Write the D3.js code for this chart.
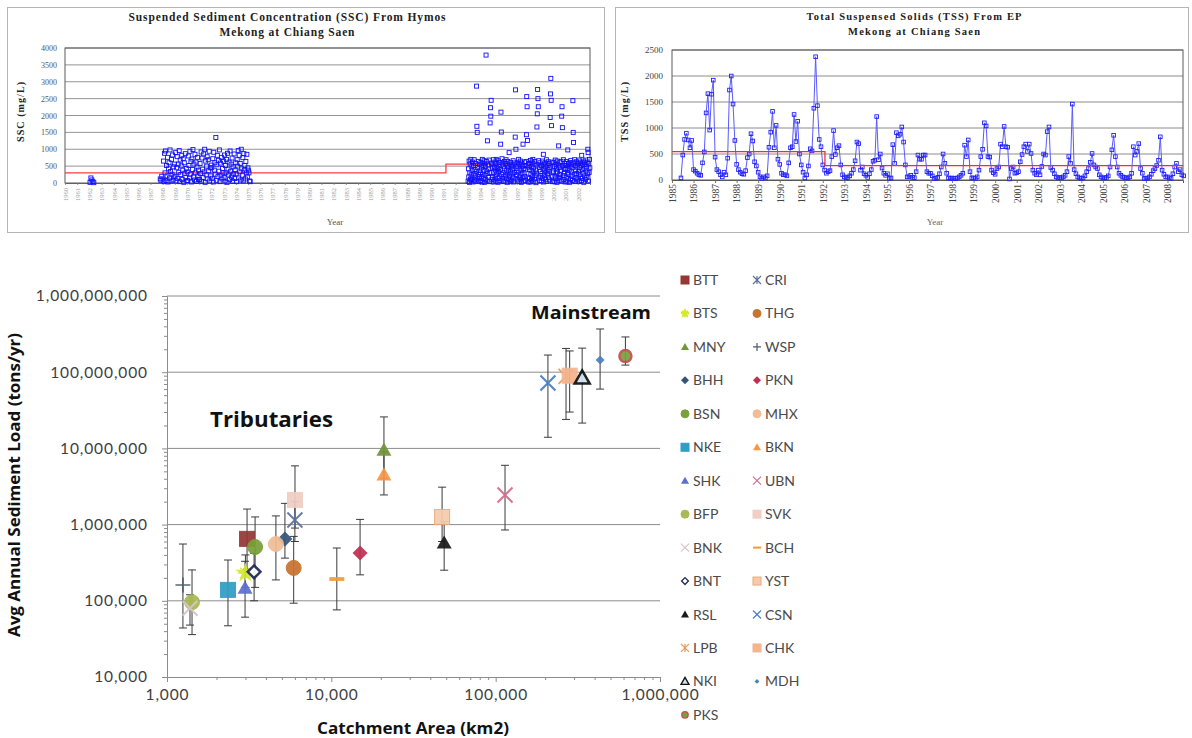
<!DOCTYPE html>
<html>
<head>
<meta charset="utf-8">
<script src="https://cdn.jsdelivr.net/npm/d3@7"></script>
<style>
body { margin: 0; background: #fff; }
svg { display: block; }
</style>
</head>
<body>
<svg id="chart" width="1192" height="738"></svg>
<script>
'use strict'

// ---------- data: SSC from Hymos (top left) ----------
const sscTickYears = [1960, 1961, 1962, 1963, 1964, 1965, 1966, 1967, 1968, 1969, 1970, 1971, 1972, 1973, 1974,
  1975, 1976, 1977, 1978, 1979, 1980, 1981, 1982, 1983, 1984, 1985, 1986, 1987, 1988, 1989, 1990, 1991,
  1992, 1993, 1994, 1995, 1996, 1997, 1998, 1999, 2000, 2001, 2002]
const sscTicks = [0, 500, 1000, 1500, 2000, 2500, 3000, 3500, 4000]
// samples spread through each listed year
const sscSampleYears = [1968, 1969, 1970, 1971, 1972, 1973, 1974, 1993, 1994, 1995, 1996, 1997, 1998, 1999, 2000, 2001, 2002]
const sscYearValues = [
  [120, 650, 40, 880, 300, 950, 75, 520, 210, 760, 30, 420, 600, 150, 980, 340, 60, 700, 260, 830, 90, 480, 180, 560],
  [200, 900, 60, 450, 780, 130, 560, 320, 960, 40, 680, 250, 510, 820, 100, 380, 720, 20, 600, 290, 870, 160, 430, 70],
  [330, 70, 800, 520, 150, 940, 260, 640, 30, 710, 400, 990, 180, 560, 90, 850, 300, 620, 45, 470, 760, 210, 380, 110],
  [90, 580, 280, 920, 50, 740, 410, 160, 860, 330, 1000, 20, 650, 240, 500, 780, 120, 690, 360, 940, 60, 450, 210, 530],
  [450, 140, 720, 30, 910, 380, 600, 260, 1350, 80, 540, 820, 190, 670, 350, 980, 40, 590, 230, 760, 120, 430, 300, 650],
  [160, 830, 60, 520, 300, 700, 20, 880, 410, 240, 620, 100, 950, 350, 560, 180, 740, 50, 480, 270, 860, 130, 390, 600],
  [270, 40, 690, 500, 960, 150, 820, 330, 580, 90, 1000, 420, 230, 750, 60, 870, 380, 520, 120, 640, 300, 850, 180, 450],
  [50, 420, 180, 650, 20, 300, 560, 110, 700, 240, 80, 480, 360, 620, 150, 30, 520, 270, 690, 90, 400, 210, 580, 60, 330, 2870, 1680, 1500, 460, 120, 640, 250, 40, 550, 190, 380],
  [300, 80, 610, 190, 450, 30, 700, 260, 520, 140, 380, 660, 20, 570, 230, 490, 100, 3790, 640, 350, 60, 1250, 280, 530, 170, 420, 680, 40, 310, 1780, 2230, 1980, 2450, 590, 110, 470],
  [160, 540, 30, 690, 310, 90, 460, 620, 210, 380, 50, 700, 270, 580, 130, 430, 20, 660, 340, 500, 180, 610, 70, 400, 1150, 2100, 1510, 250, 720, 120, 560, 300, 40, 480, 200, 640],
  [420, 60, 580, 230, 690, 140, 370, 510, 20, 640, 290, 450, 100, 900, 200, 560, 330, 40, 610, 260, 480, 80, 530, 390, 170, 660, 30, 440, 310, 590, 120, 1360, 2760, 1000, 250, 500],
  [230, 600, 90, 480, 320, 700, 40, 550, 180, 410, 650, 110, 360, 20, 590, 270, 500, 150, 1150, 60, 430, 300, 620, 200, 520, 80, 390, 640, 1430, 2560, 2260, 1260, 170, 470, 30, 560],
  [580, 130, 400, 30, 670, 260, 490, 90, 620, 350, 180, 700, 50, 450, 300, 560, 120, 640, 220, 380, 10, 530, 290, 1660, 2050, 2770, 2500, 2260, 660, 150, 470, 70, 600, 340, 210, 510],
  [70, 510, 280, 650, 140, 420, 850, 30, 560, 230, 380, 600, 110, 470, 320, 690, 50, 540, 260, 400, 630, 160, 350, 580, 90, 450, 1940, 2640, 3100, 2450, 1700, 200, 620, 40, 500, 300],
  [350, 610, 40, 490, 200, 680, 120, 560, 290, 420, 20, 650, 330, 150, 530, 1100, 80, 460, 250, 600, 170, 380, 640, 60, 1980, 2260, 1640, 510, 220, 690, 100, 440, 300, 580, 30, 400],
  [520, 170, 640, 60, 430, 300, 980, 140, 580, 250, 390, 20, 610, 480, 110, 670, 330, 540, 200, 450, 80, 2440, 1500, 1200, 600, 260, 690, 40, 520, 360, 150, 630, 280, 470, 90, 560],
  [120, 590, 330, 680, 40, 460, 250, 620, 180, 510, 70, 820, 390, 140, 560, 290, 650, 20, 430, 600, 210, 540, 100, 680, 350, 480, 160, 620, 270, 1000, 900, 60, 570, 310, 700, 450]
]
// a few samples with their own dates
const sscExtraDates = [1962.05, 1962.12, 1962.2, 1962.28, 1962.36, 1967.8, 1967.86, 1967.92, 1975.02, 1975.07, 1975.12, 1975.17]
const sscExtraValues = [20, 150, 90, 40, 10, 120, 80, 200, 380, 300, 60, 40]
const sscMeanBreaks = [1960, 1991.2, 2003]
const sscMeanValues = [300, 560]

// ---------- data: TSS from EP (top right), monthly ----------
const tssYears = [1985, 1986, 1987, 1988, 1989, 1990, 1991, 1992, 1993, 1994, 1995, 1996,
  1997, 1998, 1999, 2000, 2001, 2002, 2003, 2004, 2005, 2006, 2007, 2008]
const tssTicks = [0, 500, 1000, 1500, 2000, 2500]
const tssMonthly = [
  [null, null, null, null, null, 40, 480, 780, 900, 770, 620, 760],
  [200, 170, 130, 100, 90, 330, 540, 1290, 1660, 960, 1650, 1920],
  [440, 200, 160, 100, 60, 150, 100, 420, 1730, 2000, 1460, 760],
  [300, 200, 150, 120, 110, 180, 430, 500, 890, 750, 350, 270],
  [150, 60, 30, 60, 40, 80, 630, 920, 1320, 620, 1050, 400],
  [300, 130, 100, 100, 80, 330, 620, 640, 1260, 740, 1130, 500],
  [290, 150, 40, 100, 270, 600, 560, 1380, 2370, 1430, 780, 640],
  [290, 190, 130, 160, 180, 450, 950, 490, 620, 660, 290, 100],
  [60, 40, 50, 80, 130, 200, 370, 730, 700, 190, 250, 120],
  [90, 50, 120, 200, 360, 380, 1220, 390, 500, 230, 130, 90],
  [120, 30, 40, 680, 320, 910, 850, 880, 1020, 730, 290, 60],
  [60, 90, 50, 45, 160, 480, 400, 400, 480, 480, 160, 130],
  [130, 80, 30, 30, 50, 120, 250, 500, 320, 130, 40, 30],
  [40, 30, 30, 40, 60, 90, 130, 670, 450, 770, 160, 40],
  [40, 30, 60, 190, 450, 590, 1100, 1040, 450, 440, 190, 140],
  [110, 220, 250, 690, 640, 1030, 640, 630, 20, 220, 250, 130],
  [140, 160, 350, 490, 640, 690, 550, 690, 510, 190, 130, 100],
  [190, 100, 260, 500, 480, 930, 1020, 240, 190, 120, 60, 40],
  [50, 40, 60, 90, 160, 450, 320, 1460, 200, 120, 60, 40],
  [30, 40, 80, 160, 220, 340, 510, 290, 250, 220, 100, 60],
  [40, 40, 50, 80, 250, 580, 860, 450, 250, 130, 90, 60],
  [50, 40, 40, 60, 130, 640, 480, 550, 700, 220, 130, 30],
  [30, 40, 60, 110, 180, 220, 280, 380, 830, 190, 110, 60],
  [60, 40, 30, 120, 250, 320, 160, 200, 100, 80, null, null]
]
const tssMeanBreaks = [1985, 1992.1, 2008.72]
const tssMeanValues = [545, 275]

// ---------- data: sediment load vs catchment area (bottom) ----------
const stationNames = ['BTT', 'CRI', 'BTS', 'THG', 'MNY', 'WSP', 'BHH', 'PKN', 'BSN', 'MHX', 'NKE', 'BKN', 'SHK', 'UBN',
  'BFP', 'SVK', 'BNK', 'BCH', 'BNT', 'YST', 'RSL', 'CSN', 'LPB', 'CHK', 'NKI', 'MDH', 'PKS']
const stationArea = [3070, 6000, 3000, 5900, 20900, 1250, 5220, 14960, 3436, 4600, 2350, 20900, 2985, 114000,
  1420, 6010, 1380, 10800, 3388, 47200, 48600, 208000, 268000, 282000, 336000, 432000, 616000]
const stationLoad = [650000, 1150000, 232000, 270000, 9500000, 161000, 647000, 424000, 508000, 556000, 139000, 4500000, 147000, 2450000,
  96000, 2100000, 80000, 193000, 240000, 1260000, 575000, 72000000, 88000000, 90000000, 84000000, 145000000, 163000000]
const stationLow = [260000, 600000, 150000, 93000, 4000000, 44000, 363000, 219000, 150000, 188000, 47000, 2450000, 61000, 850000,
  36000, 900000, 48000, 76000, 100000, 600000, 252000, 14000000, 24000000, 30000000, 21500000, 60000000, 124000000]
const stationHigh = [1600000, 2000000, 400000, 700000, 25900000, 556000, 1900000, 1170000, 1260000, 1300000, 343000, 9000000, 330000, 6000000,
  254000, 5900000, 120000, 493000, 420000, 3100000, 1100000, 168000000, 205000000, 190000000, 207000000, 369000000, 290000000]
const loadTicks = [10000, 100000, 1000000, 10000000, 100000000, 1000000000]
const areaTicks = [1000, 10000, 100000, 1000000]

// marker looks for each station
const markerStyle = {
  BTT: { shape: 'square', color: '#953735' },
  CRI: { shape: 'star', color: '#5f7296' },
  BTS: { shape: 'burst', color: '#d4e82c' },
  THG: { shape: 'circle', color: '#c8732e' },
  MNY: { shape: 'triangle', color: '#71953a' },
  WSP: { shape: 'plus', color: '#4d5b6c' },
  BHH: { shape: 'diamond', color: '#34557a' },
  PKN: { shape: 'diamond', color: '#c0304f' },
  BSN: { shape: 'circle', color: '#7aa038' },
  MHX: { shape: 'circle', color: '#f0bc96' },
  NKE: { shape: 'square', color: '#2e9ec4' },
  BKN: { shape: 'triangle', color: '#f79646' },
  SHK: { shape: 'triangle', color: '#5b6fd0' },
  UBN: { shape: 'x', color: '#d56d8d' },
  BFP: { shape: 'circle', color: '#a8ba52' },
  SVK: { shape: 'square', color: '#f1cdc4' },
  BNK: { shape: 'x', color: '#d6c4c4' },
  BCH: { shape: 'dash', color: '#f59a30' },
  BNT: { shape: 'diamondOpen', color: '#ffffff', stroke: '#1f2a5a' },
  YST: { shape: 'square', color: '#f6cbad', stroke: '#eaa97a' },
  RSL: { shape: 'triangle', color: '#1a1a1a' },
  CSN: { shape: 'x', color: '#4a7ec0' },
  LPB: { shape: 'star', color: '#e89a5a' },
  CHK: { shape: 'square', color: '#f3b48e' },
  NKI: { shape: 'triangleOpen', color: '#cfe2f2', stroke: '#111111' },
  MDH: { shape: 'dot', color: '#4f81bd' },
  PKS: { shape: 'ring', color: '#7aa040', stroke: '#c0504d' }
}

const svg = d3.select('#chart')
svg.append('rect').attr('width', 1192).attr('height', 738).attr('fill', '#fff')

const serif = '"Liberation Serif", "DejaVu Serif", serif'

// ======================== top left panel ========================
const left = svg.append('g')
left.append('rect') // frame of the pasted chart
  .attr('x', 7.5).attr('y', 7.5).attr('width', 597).attr('height', 225)
  .attr('fill', 'none').attr('stroke', '#b5b5b5')

const xs = d3.scaleLinear().domain([1960, 2003]).range([65, 590])
const ys = d3.scaleLinear().domain([0, 4000]).range([183, 48])

left.append('g').selectAll('line').data(sscTicks.slice(1)).join('line')
  .attr('x1', 65).attr('x2', 590)
  .attr('y1', d => ys(d)).attr('y2', d => ys(d))
  .attr('stroke', '#7a7a7a').attr('stroke-width', 0.8)

const sscYAxis = left.append('g')
  .attr('transform', 'translate(65,0)')
  .call(d3.axisLeft(ys).tickValues(sscTicks).tickFormat(d3.format('d')).tickSize(0).tickPadding(8))
sscYAxis.select('.domain').remove()
sscYAxis.selectAll('text').attr('font-family', serif).attr('font-size', 8).attr('fill', '#555')

const sscXAxis = left.append('g')
  .attr('transform', 'translate(0,183)')
  .call(d3.axisBottom(xs).tickValues(sscTickYears).tickFormat(d3.format('d')).tickSize(2))
sscXAxis.select('.domain').attr('stroke', '#666')
sscXAxis.selectAll('line').attr('stroke', '#999')
sscXAxis.selectAll('text')
  .attr('transform', 'rotate(-90)')
  .attr('text-anchor', 'end')
  .attr('x', -5).attr('y', 0).attr('dy', '0.35em')
  .attr('font-family', serif).attr('font-size', 6.5).attr('fill', '#9a9a9a')

left.append('rect')
  .attr('x', 65).attr('y', 48).attr('width', 525).attr('height', 135)
  .attr('fill', 'none').attr('stroke', '#5a5a5a').attr('stroke-width', 1)

// mean line (step)
const sscMean = sscMeanValues.map((v, i) => ({ a: sscMeanBreaks[i], b: sscMeanBreaks[i + 1], v }))
const sscMeanPts = []
sscMean.forEach(s => { sscMeanPts.push([s.a, s.v]); sscMeanPts.push([s.b, s.v]) })
left.append('path')
  .attr('d', d3.line().x(d => xs(d[0])).y(d => ys(d[1]))(sscMeanPts))
  .attr('fill', 'none').attr('stroke', '#ff3b3b').attr('stroke-width', 1.3)

// points
const sscPoints = []
sscYearValues.forEach((vals, k) => {
  vals.forEach((v, i) => sscPoints.push({ t: sscSampleYears[k] + (i + 0.5) / vals.length, v }))
})
sscExtraDates.forEach((t, i) => sscPoints.push({ t, v: sscExtraValues[i] }))
left.append('g').selectAll('rect').data(sscPoints).join('rect')
  .attr('x', d => xs(d.t) - 2).attr('y', d => ys(d.v) - 2)
  .attr('width', 4).attr('height', 4)
  .attr('fill', 'none').attr('stroke', '#1010ff').attr('stroke-width', 0.9)

left.append('text').attr('x', 287).attr('y', 21).attr('text-anchor', 'middle')
  .attr('font-family', serif).attr('font-weight', 'bold').attr('font-size', 11.5).attr('fill', '#222')
  .attr('textLength', 317).attr('lengthAdjust', 'spacing')
  .text('Suspended Sediment Concentration (SSC) From Hymos')
left.append('text').attr('x', 287).attr('y', 36).attr('text-anchor', 'middle')
  .attr('font-family', serif).attr('font-weight', 'bold').attr('font-size', 11.5).attr('fill', '#222')
  .attr('textLength', 135).attr('lengthAdjust', 'spacing')
  .text('Mekong at Chiang Saen')
left.append('text').attr('transform', 'translate(24,112) rotate(-90)').attr('text-anchor', 'middle')
  .attr('font-family', serif).attr('font-weight', 'bold').attr('font-size', 10).attr('fill', '#222')
  .attr('textLength', 60).attr('lengthAdjust', 'spacing')
  .text('SSC (mg/L)')
left.append('text').attr('x', 335).attr('y', 225).attr('text-anchor', 'middle')
  .attr('font-family', serif).attr('font-size', 9).attr('fill', '#555')
  .text('Year')

// ======================== top right panel ========================
const right = svg.append('g')
right.append('rect')
  .attr('x', 615.5).attr('y', 7.5).attr('width', 573).attr('height', 225)
  .attr('fill', 'none').attr('stroke', '#b5b5b5')

const xt = d3.scaleLinear().domain([1985, 2008.72]).range([672, 1183])
const yt = d3.scaleLinear().domain([0, 2500]).range([180, 50])

right.append('g').selectAll('line').data(tssTicks.slice(1)).join('line')
  .attr('x1', 672).attr('x2', 1183)
  .attr('y1', d => yt(d)).attr('y2', d => yt(d))
  .attr('stroke', '#6f6f6f').attr('stroke-width', 0.8)

const tssYAxis = right.append('g')
  .attr('transform', 'translate(672,0)')
  .call(d3.axisLeft(yt).tickValues(tssTicks).tickFormat(d3.format('d')).tickSize(0).tickPadding(9))
tssYAxis.select('.domain').remove()
tssYAxis.selectAll('text').attr('font-family', serif).attr('font-size', 9).attr('fill', '#444')

const tssXAxis = right.append('g')
  .attr('transform', 'translate(0,180)')
  .call(d3.axisBottom(xt).tickValues(tssYears).tickFormat(d3.format('d')).tickSize(3))
tssXAxis.select('.domain').attr('stroke', '#555')
tssXAxis.selectAll('line').attr('stroke', '#777')
tssXAxis.selectAll('text')
  .attr('transform', 'rotate(-90)')
  .attr('text-anchor', 'end')
  .attr('x', -4).attr('y', 0).attr('dy', '0.35em')
  .attr('font-family', serif).attr('font-size', 9.5).attr('fill', '#444')

right.append('rect')
  .attr('x', 672).attr('y', 50).attr('width', 511).attr('height', 130)
  .attr('fill', 'none').attr('stroke', '#5a5a5a')

const tssPoints = []
tssYears.forEach((yr, k) => {
  tssMonthly[k].forEach((v, m) => { if (v !== null) tssPoints.push({ t: yr + m / 12, v }) })
})

const tssMean = tssMeanValues.map((v, i) => ({ a: tssMeanBreaks[i], b: tssMeanBreaks[i + 1], v }))
const tssMeanPts = []
tssMean.forEach(s => { tssMeanPts.push([s.a, s.v]); tssMeanPts.push([s.b, s.v]) })

right.append('path')
  .attr('d', d3.line().x(d => xt(d.t)).y(d => yt(d.v))(tssPoints))
  .attr('fill', 'none').attr('stroke', '#5a5aff').attr('stroke-width', 1)
right.append('g').selectAll('rect').data(tssPoints).join('rect')
  .attr('x', d => xt(d.t) - 1.8).attr('y', d => yt(d.v) - 1.8)
  .attr('width', 3.6).attr('height', 3.6)
  .attr('fill', 'none').attr('stroke', '#2020ff').attr('stroke-width', 0.9)
right.append('path')
  .attr('d', d3.line().x(d => xt(d[0])).y(d => yt(d[1]))(tssMeanPts))
  .attr('fill', 'none').attr('stroke', '#ff2b2b').attr('stroke-width', 1.3)

right.append('text').attr('x', 914).attr('y', 20).attr('text-anchor', 'middle')
  .attr('font-family', serif).attr('font-weight', 'bold').attr('font-size', 10.5).attr('fill', '#222')
  .attr('textLength', 215).attr('lengthAdjust', 'spacing')
  .text('Total Suspensed Solids (TSS) From EP')
right.append('text').attr('x', 914).attr('y', 35).attr('text-anchor', 'middle')
  .attr('font-family', serif).attr('font-weight', 'bold').attr('font-size', 10.5).attr('fill', '#222')
  .attr('textLength', 132).attr('lengthAdjust', 'spacing')
  .text('Mekong at Chiang Saen')
right.append('text').attr('transform', 'translate(628,112) rotate(-90)').attr('text-anchor', 'middle')
  .attr('font-family', serif).attr('font-weight', 'bold').attr('font-size', 10).attr('fill', '#222')
  .attr('textLength', 60).attr('lengthAdjust', 'spacing')
  .text('TSS (mg/L)')
right.append('text').attr('x', 935).attr('y', 225).attr('text-anchor', 'middle')
  .attr('font-family', serif).attr('font-size', 9).attr('fill', '#666')
  .text('Year')

// ======================== bottom chart ========================
const bottom = svg.append('g')
const sans = 'Lato, "Open Sans", sans-serif'
const bold = '"Open Sans", "Noto Sans", sans-serif'

const xb = d3.scaleLog().domain([1e3, 1e6]).range([167, 660])
const yb = d3.scaleLog().domain([1e4, 1e9]).range([677, 296])

bottom.append('g').selectAll('line').data(loadTicks.slice(1)).join('line')
  .attr('x1', 167).attr('x2', 660)
  .attr('y1', d => yb(d)).attr('y2', d => yb(d))
  .attr('stroke', '#8c8c8c').attr('stroke-width', 1)

const minorLoad = yb.ticks().filter(d => !loadTicks.includes(d))
const minorArea = xb.ticks().filter(d => !areaTicks.includes(d))

const yMinor = bottom.append('g').attr('transform', 'translate(167,0)')
  .call(d3.axisLeft(yb).tickValues(minorLoad).tickSize(3).tickFormat(''))
yMinor.select('.domain').remove()
yMinor.selectAll('line').attr('stroke', '#8c8c8c')

const yAxis = bottom.append('g').attr('transform', 'translate(167,0)')
  .call(d3.axisLeft(yb).tickValues(loadTicks).tickFormat(d3.format(',')).tickSize(5).tickPadding(14))
yAxis.select('.domain').attr('stroke', '#8c8c8c')
yAxis.selectAll('line').attr('stroke', '#8c8c8c')
yAxis.selectAll('text').attr('font-family', sans).attr('font-size', 15.5)
  .attr('letter-spacing', 0.9).attr('fill', '#404040')

const xMinor = bottom.append('g').attr('transform', 'translate(0,677)')
  .call(d3.axisBottom(xb).tickValues(minorArea).tickSize(3).tickFormat(''))
xMinor.select('.domain').remove()
xMinor.selectAll('line').attr('stroke', '#8c8c8c')

const xAxis = bottom.append('g').attr('transform', 'translate(0,677)')
  .call(d3.axisBottom(xb).tickValues(areaTicks).tickFormat(d3.format(',')).tickSize(5).tickPadding(7))
xAxis.select('.domain').attr('stroke', '#8c8c8c')
xAxis.selectAll('line').attr('stroke', '#8c8c8c')
xAxis.selectAll('text').attr('font-family', sans).attr('font-size', 15.5)
  .attr('letter-spacing', 0.9).attr('fill', '#404040')

// error bars
const stations = stationNames.map((name, i) => ({
  name, area: stationArea[i], load: stationLoad[i], lo: stationLow[i], hi: stationHigh[i]
}))
const err = bottom.append('g').attr('stroke', '#3a3a3a').attr('stroke-width', 1)
stations.forEach(d => {
  const x = xb(d.area)
  err.append('line').attr('x1', x).attr('x2', x).attr('y1', yb(d.lo)).attr('y2', yb(d.hi))
  err.append('line').attr('x1', x - 4).attr('x2', x + 4).attr('y1', yb(d.lo)).attr('y2', yb(d.lo))
  err.append('line').attr('x1', x - 4).attr('x2', x + 4).attr('y1', yb(d.hi)).attr('y2', yb(d.hi))
})

function drawMarker(g, name, size) {
  const st = markerStyle[name]
  const h = size / 2
  const c = st.color
  const sk = st.stroke || c
  switch (st.shape) {
    case 'square':
      g.append('rect').attr('x', -h).attr('y', -h).attr('width', size).attr('height', size)
        .attr('fill', c).attr('stroke', sk).attr('stroke-width', 1)
      break
    case 'circle':
      g.append('circle').attr('r', h).attr('fill', c).attr('stroke', c)
      break
    case 'ring':
      g.append('circle').attr('r', h * 0.8).attr('fill', c).attr('stroke', sk).attr('stroke-width', size / 6)
      break
    case 'triangle':
      g.append('path').attr('d', `M0,${-h}L${h},${h * 0.75}L${-h},${h * 0.75}Z`).attr('fill', c)
      break
    case 'triangleOpen':
      g.append('path').attr('d', `M0,${-h}L${h},${h * 0.75}L${-h},${h * 0.75}Z`)
        .attr('fill', c).attr('stroke', sk).attr('stroke-width', size / 6).attr('stroke-linejoin', 'miter')
      break
    case 'diamond':
      g.append('path').attr('d', `M0,${-h}L${h},0L0,${h}L${-h},0Z`).attr('fill', c)
      break
    case 'diamondOpen':
      g.append('path').attr('d', `M0,${-h * 0.85}L${h * 0.85},0L0,${h * 0.85}L${-h * 0.85},0Z`)
        .attr('fill', c).attr('stroke', sk).attr('stroke-width', size / 6)
      break
    case 'dot':
      g.append('path').attr('d', `M0,${-h * 0.6}L${h * 0.6},0L0,${h * 0.6}L${-h * 0.6},0Z`).attr('fill', c)
      break
    case 'x':
      g.append('path').attr('d', `M${-h},${-h}L${h},${h}M${-h},${h}L${h},${-h}`)
        .attr('stroke', c).attr('stroke-width', Math.max(1.2, size / 7)).attr('fill', 'none')
      break
    case 'plus':
      g.append('path').attr('d', `M${-h},0L${h},0M0,${-h}L0,${h}`)
        .attr('stroke', c).attr('stroke-width', Math.max(1.2, size / 9)).attr('fill', 'none')
      break
    case 'star':
      g.append('path').attr('d', `M${-h},${-h}L${h},${h}M${-h},${h}L${h},${-h}M0,${-h}L0,${h}`)
        .attr('stroke', c).attr('stroke-width', Math.max(1.2, size / 8)).attr('fill', 'none')
      break
    case 'dash':
      g.append('path').attr('d', `M${-h},0L${h},0`)
        .attr('stroke', c).attr('stroke-width', Math.max(2, size / 4))
      break
    case 'burst':
      g.append('path').attr('d', d3.symbol(d3.symbolStar, size * size * 0.55)()).attr('fill', c)
      g.append('path').attr('d', `M${-h},0L${h},0M0,${-h}L0,${h}M${-h * 0.7},${-h * 0.7}L${h * 0.7},${h * 0.7}M${-h * 0.7},${h * 0.7}L${h * 0.7},${-h * 0.7}`)
        .attr('stroke', c).attr('stroke-width', 1.6)
      break
  }
}

const marks = bottom.append('g')
stations.forEach(d => {
  const g = marks.append('g')
    .attr('transform', `translate(${xb(d.area)},${yb(d.load)})`)
    .attr('opacity', 0.93)
  drawMarker(g, d.name, 15)
})

bottom.append('text').attr('x', 210).attr('y', 427)
  .attr('font-family', bold).attr('font-weight', 'bold').attr('font-size', 21).attr('fill', '#111')
  .attr('textLength', 123).attr('lengthAdjust', 'spacingAndGlyphs')
  .text('Tributaries')
bottom.append('text').attr('x', 531).attr('y', 319)
  .attr('font-family', bold).attr('font-weight', 'bold').attr('font-size', 18.5).attr('fill', '#111')
  .attr('textLength', 120).attr('lengthAdjust', 'spacingAndGlyphs')
  .text('Mainstream')

bottom.append('text').attr('transform', 'translate(20,485) rotate(-90)').attr('text-anchor', 'middle')
  .attr('font-family', bold).attr('font-weight', 'bold').attr('font-size', 16).attr('fill', '#111')
  .attr('textLength', 304).attr('lengthAdjust', 'spacingAndGlyphs')
  .text('Avg Annual Sediment Load (tons/yr)')
bottom.append('text').attr('x', 413).attr('y', 734).attr('text-anchor', 'middle')
  .attr('font-family', bold).attr('font-weight', 'bold').attr('font-size', 16).attr('fill', '#111')
  .attr('textLength', 192).attr('lengthAdjust', 'spacingAndGlyphs')
  .text('Catchment Area (km2)')

// legend, two columns, series order row by row
const legend = bottom.append('g')
stationNames.forEach((name, i) => {
  const col = i % 2
  const row = Math.floor(i / 2)
  const g = legend.append('g').attr('transform', `translate(${col ? 757 : 685},${280 + row * 33.45})`)
  drawMarker(g.append('g'), name, 8)
  g.append('text').attr('x', 8).attr('y', 0).attr('dy', '0.36em')
    .attr('font-family', sans).attr('font-size', 14).attr('fill', '#4a4a4a')
    .text(name)
})
</script>
</body>
</html>
